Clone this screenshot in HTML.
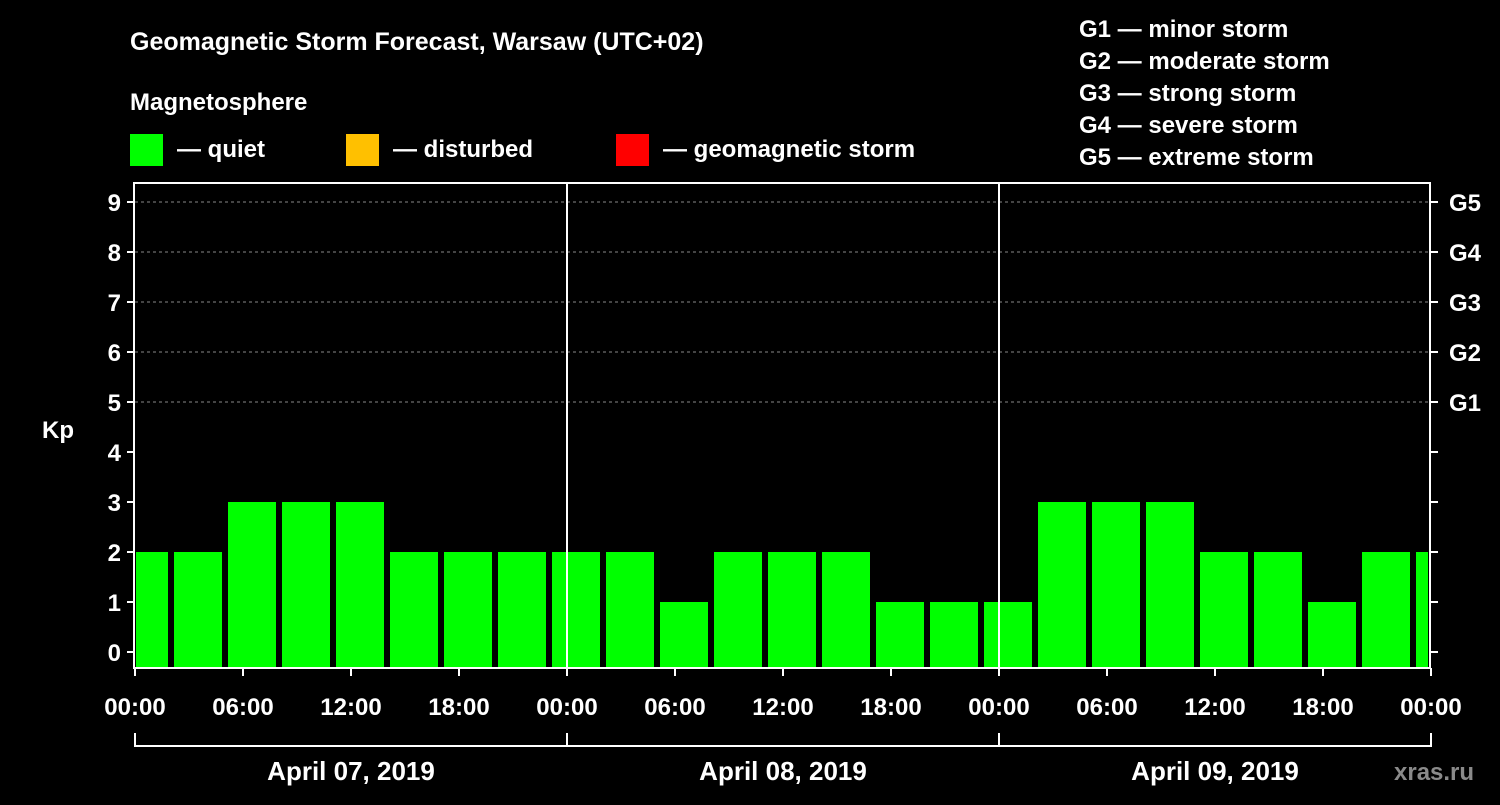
<!DOCTYPE html>
<html><head><meta charset="utf-8"><style>
html,body{margin:0;padding:0;background:#000;}
svg text{font-family:"Liberation Sans",Arial,sans-serif;font-weight:bold;fill:#fff;}
</style></head><body>
<svg id="chart" width="1500" height="800" xmlns="http://www.w3.org/2000/svg">
<rect width="1500" height="800" fill="#000"/>
<text x="130" y="50" font-size="25">Geomagnetic Storm Forecast, Warsaw (UTC+02)</text>
<text x="130" y="110" font-size="24">Magnetosphere</text>
<g><rect x="130" y="134" width="33" height="32" fill="#00ff00"/><text x="177" y="157" font-size="24">— quiet</text></g>
<g><rect x="346" y="134" width="33" height="32" fill="#ffc000"/><text x="393" y="157" font-size="24">— disturbed</text></g>
<g><rect x="616" y="134" width="33" height="32" fill="#ff0000"/><text x="663" y="157" font-size="24">— geomagnetic storm</text></g>
<g font-size="24">
<text x="1079" y="37" font-size="24">G1 — minor storm</text>
<text x="1079" y="69" font-size="24">G2 — moderate storm</text>
<text x="1079" y="101" font-size="24">G3 — strong storm</text>
<text x="1079" y="133" font-size="24">G4 — severe storm</text>
<text x="1079" y="165" font-size="24">G5 — extreme storm</text>
</g>
<text x="42" y="438" font-size="24">Kp</text>
<text x="1394" y="780" font-size="24" fill="#888" style="fill:#8a8a8a">xras.ru</text>
<g id="grid"></g><g id="bars"></g><g id="axes"></g>
</svg>
<script>
const slotStartHours = [-1,2,5,8,11,14,17,20,23,26,29,32,35,38,41,44,47,50,53,56,59,62,65,68,71];
const kpValues = [2,2,3,3,3,2,2,2,2,2,1,2,2,2,1,1,1,3,3,3,2,2,1,2,2];
const yTicks = [0,1,2,3,4,5,6,7,8,9];
const gLabels = ["G1","G2","G3","G4","G5"];
const gLevels = [5,6,7,8,9];
const xTickLabels = ["00:00","06:00","12:00","18:00","00:00","06:00","12:00","18:00","00:00","06:00","12:00","18:00","00:00"];
const xTickHours = [0,6,12,18,24,30,36,42,48,54,60,66,72];
const dayLabels = ["April 07, 2019","April 08, 2019","April 09, 2019"];

const NS="http://www.w3.org/2000/svg";
const L=135,R=1431,T=183,B=668;
const xs=h=>L+(R-L)*h/72;
const ys=v=>652-50*v;
function mk(tag,attrs,parent,txt){const e=document.createElementNS(NS,tag);for(const k in attrs)e.setAttribute(k,attrs[k]);if(txt!==undefined)e.textContent=txt;parent.appendChild(e);return e;}
const grid=document.getElementById('grid'),bars=document.getElementById('bars'),axes=document.getElementById('axes');
gLevels.forEach(v=>{const l=mk('line',{x1:L,x2:R,y1:ys(v),y2:ys(v),stroke:'#888','stroke-width':1,'stroke-dasharray':'3,3'},grid);

});
slotStartHours.forEach((h,i)=>{
 let x0=xs(h)+3,x1=xs(h+3)-3;x0=Math.max(x0,L+1);x1=Math.min(x1,R-3);
 const v=kpValues[i];const c=v>=5?'#ff0000':(v>=4?'#ffc000':'#00ff00');
 const r=mk('rect',{x:x0,y:ys(v),width:x1-x0,height:B-ys(v),fill:c},bars);
 
 
});
[24,48].forEach(h=>{const l=mk('line',{x1:xs(h),x2:xs(h),y1:T,y2:B,stroke:'#fff','stroke-width':2},axes);

});
const fr=mk('rect',{x:L-1,y:T,width:R-L,height:B-T,fill:'none',stroke:'#fff','stroke-width':2},axes);


yTicks.forEach(v=>{
 mk('line',{x1:L-8,x2:L-1,y1:ys(v),y2:ys(v),stroke:'#fff','stroke-width':2},axes);
 mk('line',{x1:R-1,x2:R+7,y1:ys(v),y2:ys(v),stroke:'#fff','stroke-width':2},axes);
 const t=mk('text',{x:L-14,y:ys(v)+9,'font-size':24,'text-anchor':'end'},axes,String(v));
 
 
});
gLevels.forEach((v,i)=>{const t=mk('text',{x:R+18,y:ys(v)+9,'font-size':24},axes,gLabels[i]);
 
 });
xTickHours.forEach((h,i)=>{
 mk('line',{x1:xs(h),x2:xs(h),y1:B,y2:B+8,stroke:'#fff','stroke-width':2},axes);
 const t=mk('text',{x:xs(h),y:715,'font-size':24,'text-anchor':'middle'},axes,xTickLabels[i]);
 
 
});
mk('line',{x1:L,x2:R,y1:746,y2:746,stroke:'#fff','stroke-width':2},axes);
[0,24,48,72].forEach(h=>mk('line',{x1:xs(h),x2:xs(h),y1:733,y2:747,stroke:'#fff','stroke-width':2},axes));
dayLabels.forEach((d,i)=>{const t=mk('text',{x:xs(24*i+12),y:780,'font-size':26,'text-anchor':'middle'},axes,d);
 
 });
</script>
</body></html>
